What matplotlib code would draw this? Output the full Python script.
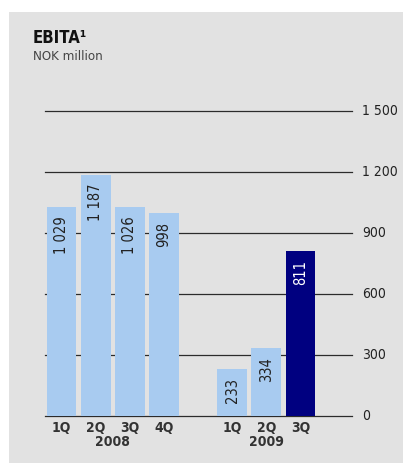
import matplotlib.pyplot as plt
from matplotlib.patches import Rectangle

# EBITA per quarter, NOK million
quarters = ['1Q', '2Q', '3Q', '4Q', '1Q', '2Q', '3Q']
positions = [0, 1, 2, 3, 5, 6, 7]
values = [1029, 1187, 1026, 998, 233, 334, 811]
value_labels = ['1 029', '1 187', '1 026', '998', '233', '334', '811']
years = ['2008', '2009']
year_pos = [1.5, 6]
yticks = [0, 300, 600, 900, 1200, 1500]
ytick_labels = ['0', '300', '600', '900', '1 200', '1 500']

light = '#a8cbf0'
dark = '#000080'
colors = [light] * 6 + [dark]

plt.rcParams['font.family'] = ['DejaVu Sans']
plt.rcParams['font.stretch'] = 'condensed'

fig = plt.figure(figsize=(4.03, 4.63), dpi=100)
fig.patch.set_facecolor('white')

# grey panel behind everything
bg = fig.add_axes([0, 0, 1, 1], zorder=-1)
bg.add_patch(Rectangle((9 / 403, 0), 1, 1 - 12 / 463, facecolor='#e2e2e2', edgecolor='none'))
bg.set_xlim(0, 1)
bg.set_ylim(0, 1)
bg.axis('off')

ax = fig.add_axes([45 / 403, 1 - 416 / 463, 307 / 403, 305 / 463], zorder=1)
ax.set_facecolor('none')
ax.set_xlim(-0.485, 8.51)
ax.set_ylim(0, 1500)

for y in yticks:
    ax.axhline(y, color='#2b2b2b', lw=0.9, zorder=1, clip_on=False)

bars = ax.bar(positions, values, width=0.87, color=colors, zorder=2)

for p, v, lab, c in zip(positions, values, value_labels, colors):
    ax.text(p, v - 45, lab, rotation=90, ha='center', va='top', fontsize=10.5,
            color='white' if c == dark else '#222222', zorder=3)

for s in ax.spines.values():
    s.set_visible(False)
ax.set_xticks([])
ax.set_yticks([])

for y, lab in zip(yticks, ytick_labels):
    ax.text(8.8, y, lab, ha='left', va='center', fontsize=10, color='#222222')

for p, q in zip(positions, quarters):
    ax.text(p, -25, q, ha='center', va='top', fontsize=10, fontweight='bold', color='#333333')
for p, yr in zip(year_pos, years):
    ax.text(p, -95, yr, ha='center', va='top', fontsize=10, fontweight='bold', color='#333333')

fig.text(33 / 403, 1 - 38 / 463, 'EBITA\u00b9', fontsize=12, fontweight='bold',
         color='#111111', va='center', ha='left')
fig.text(33 / 403, 1 - 57 / 463, 'NOK million', fontsize=9.5, color='#444444',
         va='center', ha='left')

fig.savefig('out.png', dpi=100)
